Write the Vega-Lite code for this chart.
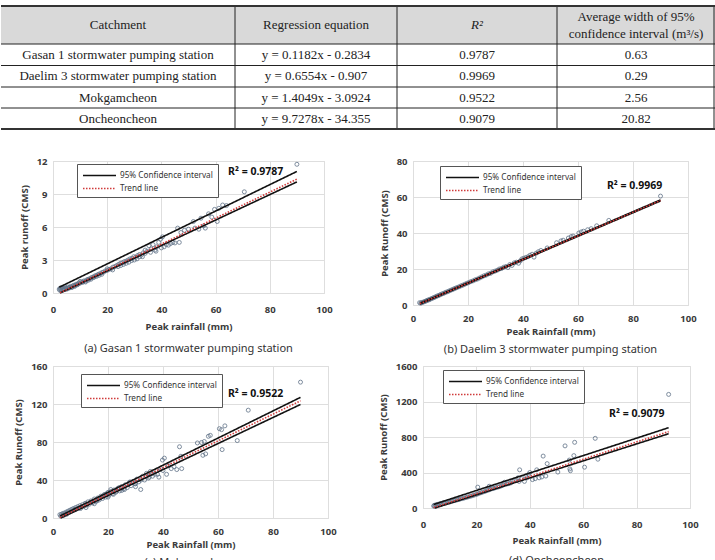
{
  "$schema": "https://vega.github.io/schema/vega-lite/v6.json",
  "background": "white",
  "padding": {"top": 5, "left": 0, "right": 0, "bottom": 0},
  "spacing": 4,
  "columns": 1,
  "align": "none",
  "config": {
    "font": "Noto Sans",
    "view": {"stroke": "#d4d4d4", "strokeWidth": 1},
    "axis": {
      "grid": true, "gridColor": "#dedede", "gridWidth": 1,
      "domain": false, "ticks": false, "labelOverlap": false, "labelFlush": false,
      "labelFont": "Noto Sans", "labelFontSize": 9.5, "labelFontWeight": "bold", "labelColor": "#3a3a3a",
      "titleFont": "Noto Sans", "titleFontSize": 9.5, "titleFontWeight": "bold", "titleColor": "#3a3a3a"
    },
    "axisX": {"labelPadding": 8, "titlePadding": 4},
    "axisY": {"labelPadding": 6, "titlePadding": 7, "tickCount": 6},
    "title": {"font": "Noto Sans", "fontSize": 11, "fontWeight": "normal", "color": "#333333", "orient": "bottom", "offset": 8},
    "point": {"filled": false, "size": 16, "strokeWidth": 0.9, "color": "#627489", "opacity": 0.9},
    "legend": {
      "symbolType": "M-1,0H5", "symbolSize": 121, "symbolStrokeWidth": 1.3,
      "labelFont": "Noto Sans", "labelFontSize": 8.2, "labelColor": "#333333", "labelOffset": 25,
      "padding": 5, "rowPadding": 3, "strokeColor": "#555555", "fillColor": "white"
    }
  },
  "resolve": {
    "scale": {"color": "independent", "strokeDash": "independent", "x": "independent", "y": "independent"},
    "legend": {"color": "independent", "strokeDash": "independent"}
  },
  "datasets": {
    "tlines": [
      {"w": "outer", "x": 0, "x2": 715, "y": 0, "y2": 0},
      {"w": "outer", "x": 0, "x2": 715, "y": 123, "y2": 123},
      {"w": "inner", "x": 0, "x2": 715, "y": 38, "y2": 38},
      {"w": "inner", "x": 0, "x2": 715, "y": 59.5, "y2": 59.5},
      {"w": "inner", "x": 0, "x2": 715, "y": 81, "y2": 81},
      {"w": "inner", "x": 0, "x2": 715, "y": 102, "y2": 102},
      {"w": "inner", "x": 234, "x2": 234, "y": 0, "y2": 123},
      {"w": "inner", "x": 396, "x2": 396, "y": 0, "y2": 123},
      {"w": "inner", "x": 556, "x2": 556, "y": 0, "y2": 123},
      {"w": "inner", "x": 713, "x2": 713, "y": 0, "y2": 123}
    ],
    "cells": [
      {"kind": "head", "xc": 117, "yc": 19, "t": "Catchment"},
      {"kind": "head", "xc": 315, "yc": 19, "t": "Regression equation"},
      {"kind": "headi", "xc": 476, "yc": 19, "t": "R²"},
      {"kind": "head", "xc": 635, "yc": 11, "t": "Average width of 95%\nconfidence interval (m³/s)"},
      {"kind": "body", "xc": 117, "yc": 48.5, "t": "Gasan 1 stormwater pumping station"},
      {"kind": "body", "xc": 315, "yc": 48.5, "t": "y = 0.1182x - 0.2834"},
      {"kind": "body", "xc": 476, "yc": 48.5, "t": "0.9787"},
      {"kind": "body", "xc": 635, "yc": 48.5, "t": "0.63"},
      {"kind": "body", "xc": 117, "yc": 70, "t": "Daelim 3 stormwater pumping station"},
      {"kind": "body", "xc": 315, "yc": 70, "t": "y = 0.6554x - 0.907"},
      {"kind": "body", "xc": 476, "yc": 70, "t": "0.9969"},
      {"kind": "body", "xc": 635, "yc": 70, "t": "0.29"},
      {"kind": "body", "xc": 117, "yc": 91.5, "t": "Mokgamcheon"},
      {"kind": "body", "xc": 315, "yc": 91.5, "t": "y = 1.4049x - 3.0924"},
      {"kind": "body", "xc": 476, "yc": 91.5, "t": "0.9522"},
      {"kind": "body", "xc": 635, "yc": 91.5, "t": "2.56"},
      {"kind": "body", "xc": 117, "yc": 112.5, "t": "Oncheoncheon"},
      {"kind": "body", "xc": 315, "yc": 112.5, "t": "y = 9.7278x - 34.355"},
      {"kind": "body", "xc": 476, "yc": 112.5, "t": "0.9079"},
      {"kind": "body", "xc": 635, "yc": 112.5, "t": "20.82"}
    ],
    "a_pts": [
      {"x":2.3,"y":0.35},{"x":2.5,"y":0.25},{"x":2.7,"y":0.45},{"x":2.9,"y":0.3},{"x":3.1,"y":0.2},{"x":3.3,"y":0.5},{"x":3.5,"y":0.35},{"x":3.7,"y":0.28},{"x":3.9,"y":0.45},{"x":4.1,"y":0.38},
      {"x":4.4,"y":0.3},{"x":4.6,"y":0.5},{"x":4.9,"y":0.42},{"x":5.2,"y":0.36},{"x":5.5,"y":0.55},{"x":5.8,"y":0.48},{"x":6.1,"y":0.5},{"x":6.5,"y":0.6},{"x":6.9,"y":0.55},{"x":7.3,"y":0.65},
      {"x":7.7,"y":0.7},{"x":8.1,"y":0.68},{"x":8.5,"y":0.8},{"x":9.0,"y":0.78},{"x":9.4,"y":0.9},{"x":9.9,"y":0.88},{"x":10.4,"y":1.0},{"x":10.9,"y":0.98},{"x":11.4,"y":1.1},{"x":11.9,"y":1.08},
      {"x":12.5,"y":1.2},{"x":13.0,"y":1.25},{"x":13.6,"y":1.3},{"x":14.2,"y":1.4},{"x":14.8,"y":1.45},{"x":15.4,"y":1.55},{"x":16.0,"y":1.6},{"x":16.7,"y":1.7},{"x":17.3,"y":1.75},{"x":18.0,"y":1.85},
      {"x":18.6,"y":1.9},{"x":19.3,"y":2.0},{"x":20.0,"y":2.05},{"x":20.7,"y":2.15},{"x":21.4,"y":2.2},{"x":22.1,"y":2.35},{"x":22.8,"y":2.4},{"x":23.5,"y":2.5},{"x":24.2,"y":2.6},{"x":24.9,"y":2.7},
      {"x":25.6,"y":2.75},{"x":26.3,"y":2.85},{"x":27.0,"y":2.9},{"x":27.7,"y":3.0},{"x":28.4,"y":3.1},{"x":29.1,"y":3.15},{"x":29.8,"y":3.3},{"x":30.5,"y":3.25},{"x":31.2,"y":3.4},{"x":31.9,"y":3.5},
      {"x":32.6,"y":3.45},{"x":33.3,"y":3.65},{"x":34.0,"y":3.6},{"x":34.7,"y":3.8},{"x":35.4,"y":4.3},{"x":36.2,"y":4.0},{"x":36.9,"y":4.4},{"x":37.6,"y":3.9},{"x":38.3,"y":4.2},{"x":39.0,"y":4.6},
      {"x":39.7,"y":4.9},{"x":40.4,"y":5.1},{"x":41.0,"y":4.2},{"x":41.8,"y":4.4},{"x":42.6,"y":4.35},{"x":43.4,"y":4.5},{"x":44.2,"y":4.6},{"x":45.0,"y":4.55},{"x":46.0,"y":5.9},{"x":46.6,"y":4.6},
      {"x":47.2,"y":5.5},{"x":48.5,"y":5.7},{"x":50.0,"y":5.8},{"x":51.8,"y":6.5},{"x":52.4,"y":5.9},{"x":53.8,"y":5.8},{"x":54.6,"y":6.8},{"x":55.6,"y":6.1},{"x":56.2,"y":5.9},{"x":57.4,"y":7.2},
      {"x":58.6,"y":6.9},{"x":59.6,"y":7.6},{"x":60.6,"y":6.5},{"x":61.2,"y":7.7},{"x":62.6,"y":8.0},{"x":64.0,"y":7.95},{"x":70.6,"y":9.2},{"x":90.0,"y":11.7},
      {"x":10,"y":1.05},{"x":12,"y":1.0},{"x":14,"y":1.25},{"x":16,"y":1.5},{"x":18,"y":1.7},{"x":20,"y":2.2},{"x":22,"y":2.1},{"x":24,"y":2.4},{"x":26,"y":2.6},{"x":28,"y":2.8},
      {"x":30,"y":3.0},{"x":32,"y":3.3},{"x":34,"y":3.9},{"x":36,"y":3.7},{"x":38,"y":3.8},{"x":40,"y":4.1},{"x":25,"y":2.5},{"x":27,"y":2.7},{"x":29,"y":2.95},{"x":31,"y":3.1},
      {"x":33,"y":3.3},{"x":17,"y":1.6},{"x":15,"y":1.4},{"x":13,"y":1.15},{"x":11,"y":1.0},{"x":9,"y":0.75},{"x":8,"y":0.6},{"x":7,"y":0.5},{"x":6,"y":0.45},{"x":5,"y":0.4}
    ],
    "b_pts": [
      {"x":2.4,"y":1.3},{"x":2.8,"y":1.0},{"x":3.2,"y":1.4},{"x":3.6,"y":1.5},{"x":4.0,"y":1.8},{"x":4.4,"y":2.0},{"x":4.8,"y":2.3},{"x":5.2,"y":2.6},{"x":5.6,"y":2.8},{"x":6.0,"y":3.0},
      {"x":6.5,"y":3.4},{"x":7.0,"y":3.7},{"x":7.5,"y":4.1},{"x":8.0,"y":4.4},{"x":8.5,"y":4.8},{"x":9.0,"y":5.1},{"x":9.5,"y":5.4},{"x":10.0,"y":5.8},{"x":10.6,"y":6.2},{"x":11.2,"y":6.5},
      {"x":11.8,"y":7.0},{"x":12.4,"y":7.3},{"x":13.0,"y":7.7},{"x":13.6,"y":8.1},{"x":14.2,"y":8.5},{"x":14.8,"y":8.9},{"x":15.4,"y":9.3},{"x":16.0,"y":9.7},{"x":16.7,"y":10.1},{"x":17.4,"y":10.6},
      {"x":18.1,"y":11.0},{"x":18.8,"y":11.5},{"x":19.5,"y":12.0},{"x":20.2,"y":12.4},{"x":21.0,"y":13.0},{"x":21.8,"y":13.4},{"x":22.6,"y":14.0},{"x":23.4,"y":14.4},{"x":24.2,"y":15.0},{"x":25.0,"y":15.6},
      {"x":25.8,"y":16.2},{"x":26.6,"y":16.6},{"x":27.4,"y":17.3},{"x":28.2,"y":17.6},{"x":29.0,"y":18.4},{"x":29.8,"y":18.8},{"x":30.6,"y":19.3},{"x":31.4,"y":20.0},{"x":32.2,"y":20.3},{"x":33.0,"y":21.0},
      {"x":33.8,"y":21.4},{"x":34.5,"y":20.8},{"x":35.2,"y":22.5},{"x":36.0,"y":22.0},{"x":36.8,"y":23.4},{"x":37.6,"y":23.8},{"x":38.4,"y":23.2},{"x":39.0,"y":24.5},{"x":39.6,"y":25.6},{"x":40.3,"y":26.0},
      {"x":41.0,"y":26.4},{"x":41.8,"y":26.8},{"x":42.5,"y":27.6},{"x":43.3,"y":28.2},{"x":44.0,"y":26.6},{"x":44.8,"y":28.8},{"x":45.6,"y":29.6},{"x":46.5,"y":30.3},{"x":48.8,"y":31.7},{"x":52.2,"y":34.6},
      {"x":53.8,"y":35.6},{"x":54.6,"y":36.0},{"x":56.5,"y":37.2},{"x":57.5,"y":38.0},{"x":58.2,"y":38.3},{"x":60.3,"y":40.0},{"x":61.2,"y":40.6},{"x":62.0,"y":41.0},{"x":63.5,"y":41.8},{"x":64.8,"y":42.4},
      {"x":66.8,"y":44.0},{"x":71.2,"y":47.0},{"x":90.0,"y":60.5}
    ],
    "c_pts": [
      {"x":2.5,"y":3.5},{"x":2.8,"y":2.0},{"x":3.1,"y":4.0},{"x":3.4,"y":2.5},{"x":3.7,"y":5.0},{"x":4.0,"y":3.0},{"x":4.3,"y":4.5},{"x":4.6,"y":6.0},{"x":5.0,"y":4.0},{"x":5.3,"y":7.0},
      {"x":5.6,"y":5.5},{"x":6.0,"y":8.0},{"x":6.3,"y":6.5},{"x":6.7,"y":9.0},{"x":7.0,"y":7.5},{"x":7.4,"y":10.0},{"x":7.8,"y":8.5},{"x":8.2,"y":11.0},{"x":8.6,"y":9.5},{"x":9.0,"y":12.0},
      {"x":9.4,"y":10.5},{"x":9.8,"y":13.0},{"x":10.2,"y":11.5},{"x":10.7,"y":14.0},{"x":11.2,"y":12.5},{"x":11.7,"y":15.5},{"x":12.2,"y":13.5},{"x":12.7,"y":17.0},{"x":13.2,"y":14.5},{"x":13.8,"y":18.0},
      {"x":14.4,"y":16.0},{"x":15.0,"y":20.0},{"x":15.6,"y":17.5},{"x":16.2,"y":21.0},{"x":16.8,"y":19.0},{"x":17.4,"y":23.0},{"x":18.0,"y":20.5},{"x":18.6,"y":24.5},{"x":19.2,"y":22.0},{"x":19.8,"y":26.0},
      {"x":20.4,"y":24.0},{"x":21.0,"y":28.0},{"x":21.6,"y":25.5},{"x":22.2,"y":29.5},{"x":22.8,"y":27.0},{"x":23.5,"y":31.0},{"x":24.2,"y":28.5},{"x":24.9,"y":33.0},{"x":25.6,"y":30.5},{"x":26.3,"y":35.0},
      {"x":27.0,"y":32.0},{"x":27.7,"y":37.0},{"x":28.4,"y":34.0},{"x":29.1,"y":38.5},{"x":29.8,"y":36.0},{"x":30.5,"y":41.0},{"x":31.2,"y":38.0},{"x":31.9,"y":30.0},{"x":32.6,"y":44.0},{"x":33.3,"y":40.0},
      {"x":34.0,"y":47.0},{"x":34.7,"y":42.0},{"x":35.4,"y":49.0},{"x":36.2,"y":44.0},{"x":37.0,"y":46.0},{"x":37.8,"y":50.0},{"x":38.5,"y":43.0},{"x":39.2,"y":52.0},{"x":39.8,"y":61.0},{"x":40.5,"y":63.0},
      {"x":41.3,"y":46.0},{"x":42.0,"y":55.0},{"x":43.0,"y":52.0},{"x":44.0,"y":54.0},{"x":45.0,"y":51.0},{"x":46.0,"y":75.0},{"x":46.5,"y":65.0},{"x":46.8,"y":52.0},{"x":52.5,"y":79.0},{"x":54.0,"y":79.5},
      {"x":54.5,"y":66.0},{"x":55.5,"y":67.5},{"x":55.0,"y":80.5},{"x":56.5,"y":86.0},{"x":57.2,"y":87.0},{"x":60.5,"y":94.0},{"x":61.3,"y":93.0},{"x":61.5,"y":72.0},{"x":62.5,"y":97.0},{"x":67.0,"y":81.5},
      {"x":71.0,"y":113.5},{"x":90.0,"y":143.0},
      {"x":5,"y":5},{"x":8,"y":9},{"x":10,"y":10},{"x":12,"y":15},{"x":14,"y":17},{"x":16,"y":18},{"x":18,"y":23},{"x":20,"y":27},{"x":22,"y":25},{"x":24,"y":32},
      {"x":26,"y":30},{"x":28,"y":38},{"x":30,"y":36},{"x":32,"y":40},{"x":34,"y":44},{"x":36,"y":47},{"x":38,"y":46},{"x":40,"y":50},{"x":12,"y":11},{"x":15,"y":15},
      {"x":20,"y":22},{"x":25,"y":29},{"x":30,"y":33},{"x":35,"y":43},{"x":21,"y":30},{"x":19,"y":25},{"x":17,"y":21},{"x":23,"y":28}
    ],
    "d_pts": [
      {"x":4.0,"y":22},{"x":4.2,"y":30},{"x":4.5,"y":18},{"x":4.8,"y":35},{"x":5.1,"y":28},{"x":5.4,"y":40},{"x":5.7,"y":34},{"x":6.0,"y":45},{"x":6.4,"y":40},{"x":6.8,"y":52},
      {"x":7.2,"y":48},{"x":7.6,"y":58},{"x":8.0,"y":55},{"x":8.5,"y":64},{"x":9.0,"y":62},{"x":9.5,"y":70},{"x":10.0,"y":68},{"x":10.5,"y":78},{"x":11.0,"y":76},{"x":11.6,"y":84},
      {"x":12.2,"y":86},{"x":12.8,"y":92},{"x":13.4,"y":96},{"x":14.0,"y":102},{"x":14.7,"y":106},{"x":15.4,"y":112},{"x":16.1,"y":118},{"x":16.8,"y":124},{"x":17.5,"y":130},{"x":18.2,"y":136},
      {"x":18.9,"y":142},{"x":19.6,"y":150},{"x":20.3,"y":156},{"x":20.5,"y":235},{"x":21.0,"y":165},{"x":21.7,"y":172},{"x":22.4,"y":180},{"x":23.1,"y":186},{"x":23.8,"y":195},{"x":24.5,"y":202},
      {"x":24.8,"y":245},{"x":25.2,"y":210},{"x":25.9,"y":218},{"x":26.6,"y":222},{"x":27.3,"y":230},{"x":28.0,"y":235},{"x":28.7,"y":242},{"x":29.4,"y":250},{"x":30.1,"y":260},{"x":30.5,"y":290},
      {"x":31.2,"y":268},{"x":32.0,"y":275},{"x":32.8,"y":282},{"x":33.5,"y":300},{"x":34.2,"y":310},{"x":35.0,"y":320},{"x":35.6,"y":340},{"x":36.0,"y":300},{"x":36.2,"y":430},{"x":37.0,"y":330},
      {"x":38.0,"y":300},{"x":38.5,"y":360},{"x":39.0,"y":340},{"x":39.6,"y":380},{"x":40.0,"y":400},{"x":41.0,"y":320},{"x":42.0,"y":330},{"x":42.6,"y":430},{"x":43.5,"y":340},{"x":44.5,"y":350},
      {"x":45.0,"y":585},{"x":46.0,"y":360},{"x":46.5,"y":500},{"x":50.5,"y":405},{"x":53.2,"y":700},{"x":54.8,"y":540},{"x":55.0,"y":440},{"x":55.2,"y":420},{"x":56.5,"y":590},{"x":56.8,"y":740},
      {"x":60.5,"y":460},{"x":64.5,"y":785},{"x":65.5,"y":550},{"x":92.0,"y":1280}
    ],
    "a_lines": [
      {"line":"upper","series":"95% Confidence interval","x":2.3,"y":0.52},{"line":"upper","series":"95% Confidence interval","x":90,"y":11.05},
      {"line":"lower","series":"95% Confidence interval","x":2.6,"y":0.0},{"line":"lower","series":"95% Confidence interval","x":90,"y":10.1},
      {"line":"trend","series":"Trend line","x":2.6,"y":0.02},{"line":"trend","series":"Trend line","x":90,"y":10.35}
    ],
    "b_lines": [
      {"line":"upper","series":"95% Confidence interval","x":2.5,"y":0.95},{"line":"upper","series":"95% Confidence interval","x":90,"y":58.4},
      {"line":"lower","series":"95% Confidence interval","x":2.5,"y":0.5},{"line":"lower","series":"95% Confidence interval","x":90,"y":57.8},
      {"line":"trend","series":"Trend line","x":2.5,"y":0.73},{"line":"trend","series":"Trend line","x":90,"y":58.08}
    ],
    "c_lines": [
      {"line":"upper","series":"95% Confidence interval","x":2.5,"y":2.0},{"line":"upper","series":"95% Confidence interval","x":90,"y":127},
      {"line":"lower","series":"95% Confidence interval","x":2.8,"y":0.0},{"line":"lower","series":"95% Confidence interval","x":90,"y":119.5},
      {"line":"trend","series":"Trend line","x":2.5,"y":0.42},{"line":"trend","series":"Trend line","x":90,"y":123.35}
    ],
    "d_lines": [
      {"line":"upper","series":"95% Confidence interval","x":4,"y":40},{"line":"upper","series":"95% Confidence interval","x":92,"y":905},
      {"line":"lower","series":"95% Confidence interval","x":4.5,"y":0},{"line":"lower","series":"95% Confidence interval","x":92,"y":837},
      {"line":"trend","series":"Trend line","x":4,"y":4.6},{"line":"trend","series":"Trend line","x":92,"y":860.6}
    ]
  },
  "concat": [
    {
      "width": 663, "height": 145,
      "view": {"stroke": null},
      "layer": [
        {
          "data": {"values": [{"x": 0, "x2": 715, "y": 0, "y2": 38}]},
          "mark": {"type": "rect", "color": "#d9d9d9"},
          "encoding": {
            "x": {"field": "x", "type": "quantitative", "scale": {"domain": [52, 715]}, "axis": null},
            "x2": {"field": "x2"},
            "y": {"field": "y", "type": "quantitative", "scale": {"domain": [0, 145], "reverse": true}, "axis": null},
            "y2": {"field": "y2"}
          }
        },
        {
          "data": {"name": "tlines"},
          "transform": [{"filter": "datum.w == 'inner'"}],
          "mark": {"type": "rule", "color": "#222222", "strokeWidth": 1},
          "encoding": {
            "x": {"field": "x", "type": "quantitative", "scale": {"domain": [52, 715]}, "axis": null},
            "x2": {"field": "x2"},
            "y": {"field": "y", "type": "quantitative", "scale": {"domain": [0, 145], "reverse": true}, "axis": null},
            "y2": {"field": "y2"}
          }
        },
        {
          "data": {"name": "tlines"},
          "transform": [{"filter": "datum.w == 'outer'"}],
          "mark": {"type": "rule", "color": "#333333", "strokeWidth": 2},
          "encoding": {
            "x": {"field": "x", "type": "quantitative", "scale": {"domain": [52, 715]}, "axis": null},
            "x2": {"field": "x2"},
            "y": {"field": "y", "type": "quantitative", "scale": {"domain": [0, 145], "reverse": true}, "axis": null},
            "y2": {"field": "y2"}
          }
        },
        {
          "data": {"name": "cells"},
          "transform": [{"filter": "datum.kind != 'headi'"}],
          "mark": {"type": "text", "font": "Liberation Serif", "fontSize": 13, "color": "#222222", "lineBreak": "\n", "lineHeight": 17, "baseline": "middle", "align": "center"},
          "encoding": {
            "x": {"field": "xc", "type": "quantitative", "scale": {"domain": [52, 715]}, "axis": null},
            "y": {"field": "yc", "type": "quantitative", "scale": {"domain": [0, 145], "reverse": true}, "axis": null},
            "text": {"field": "t"}
          }
        },
        {
          "data": {"name": "cells"},
          "transform": [{"filter": "datum.kind == 'headi'"}],
          "mark": {"type": "text", "font": "Liberation Serif", "fontSize": 13, "fontStyle": "italic", "color": "#222222", "baseline": "middle", "align": "center"},
          "encoding": {
            "x": {"field": "xc", "type": "quantitative", "scale": {"domain": [52, 715]}, "axis": null},
            "y": {"field": "yc", "type": "quantitative", "scale": {"domain": [0, 145], "reverse": true}, "axis": null},
            "text": {"field": "t"}
          }
        }
      ]
    },
    {
      "hconcat": [
        {
          "width": 271, "height": 132,
          "title": {"text": "(a) Gasan 1 stormwater pumping station", "offset": 12},
          "layer": [
            {
              "data": {"name": "a_pts"},
              "mark": {"type": "point"},
              "encoding": {
                "x": {"field": "x", "type": "quantitative", "title": "Peak rainfall (mm)", "scale": {"domain": [0, 100]}, "axis": {"values": [0, 20, 40, 60, 80, 100], "labelPadding": 11, "titlePadding": 8}},
                "y": {"field": "y", "type": "quantitative", "title": "Peak runoff (CMS)", "scale": {"domain": [0, 12]}, "axis": {"values": [0, 3, 6, 9, 12]}}
              }
            },
            {
              "data": {"name": "a_lines"},
              "mark": {"type": "line", "strokeWidth": 1.6},
              "encoding": {
                "x": {"field": "x", "type": "quantitative", "title": "Peak rainfall (mm)"},
                "y": {"field": "y", "type": "quantitative", "title": "Peak runoff (CMS)"},
                "detail": {"field": "line"},
                "color": {"field": "series", "type": "nominal", "scale": {"domain": ["95% Confidence interval", "Trend line"], "range": ["#111111", "#d03a3a"]}, "legend": {"orient": "none", "legendX": 24, "legendY": 3, "title": null}},
                "strokeDash": {"field": "series", "type": "nominal", "scale": {"domain": ["95% Confidence interval", "Trend line"], "range": [[1, 0], [1.5, 1.5]]}, "legend": {"orient": "none", "legendX": 24, "legendY": 3, "title": null}}
              }
            },
            {
              "data": {"values": [{"x": 64.6, "y": 11.0, "t": "R² = 0.9787"}]},
              "mark": {"type": "text", "align": "left", "baseline": "middle", "fontWeight": "bold", "fontSize": 10.5, "font": "Noto Sans", "color": "#111111"},
              "encoding": {
                "x": {"field": "x", "type": "quantitative", "title": "Peak rainfall (mm)"},
                "y": {"field": "y", "type": "quantitative", "title": "Peak runoff (CMS)"},
                "text": {"field": "t"}
              }
            }
          ]
        },
        {
          "width": 275, "height": 144,
          "title": {"text": "(b) Daelim 3 stormwater pumping station"},
          "layer": [
            {
              "data": {"name": "b_pts"},
              "mark": {"type": "point"},
              "encoding": {
                "x": {"field": "x", "type": "quantitative", "title": "Peak Rainfall (mm)", "scale": {"domain": [0, 100]}, "axis": {"values": [0, 20, 40, 60, 80, 100]}},
                "y": {"field": "y", "type": "quantitative", "title": "Peak Runoff (CMS)", "scale": {"domain": [0, 80]}, "axis": {"values": [0, 20, 40, 60, 80]}}
              }
            },
            {
              "data": {"name": "b_lines"},
              "mark": {"type": "line", "strokeWidth": 1.6},
              "encoding": {
                "x": {"field": "x", "type": "quantitative", "title": "Peak Rainfall (mm)"},
                "y": {"field": "y", "type": "quantitative", "title": "Peak Runoff (CMS)"},
                "detail": {"field": "line"},
                "color": {"field": "series", "type": "nominal", "scale": {"domain": ["95% Confidence interval", "Trend line"], "range": ["#111111", "#d03a3a"]}, "legend": {"orient": "none", "legendX": 27, "legendY": 5, "title": null}},
                "strokeDash": {"field": "series", "type": "nominal", "scale": {"domain": ["95% Confidence interval", "Trend line"], "range": [[1, 0], [1.5, 1.5]]}, "legend": {"orient": "none", "legendX": 27, "legendY": 5, "title": null}}
              }
            },
            {
              "data": {"values": [{"x": 70.5, "y": 66.1, "t": "R² = 0.9969"}]},
              "mark": {"type": "text", "align": "left", "baseline": "middle", "fontWeight": "bold", "fontSize": 10.5, "font": "Noto Sans", "color": "#111111"},
              "encoding": {
                "x": {"field": "x", "type": "quantitative", "title": "Peak Rainfall (mm)"},
                "y": {"field": "y", "type": "quantitative", "title": "Peak Runoff (CMS)"},
                "text": {"field": "t"}
              }
            }
          ]
        }
      ],
      "spacing": 89,
      "bounds": "flush",
      "resolve": {
        "scale": {"color": "independent", "strokeDash": "independent", "x": "independent", "y": "independent"},
        "legend": {"color": "independent", "strokeDash": "independent"}
      }
    },
    {
      "hconcat": [
        {
          "width": 275, "height": 152,
          "title": {"text": "(c) Mokgamcheon"},
          "layer": [
            {
              "data": {"name": "c_pts"},
              "mark": {"type": "point"},
              "encoding": {
                "x": {"field": "x", "type": "quantitative", "title": "Peak Rainfall (mm)", "scale": {"domain": [0, 100]}, "axis": {"values": [0, 20, 40, 60, 80, 100]}},
                "y": {"field": "y", "type": "quantitative", "title": "Peak Runoff (CMS)", "scale": {"domain": [0, 160]}, "axis": {"values": [0, 40, 80, 120, 160]}}
              }
            },
            {
              "data": {"name": "c_lines"},
              "mark": {"type": "line", "strokeWidth": 1.6},
              "encoding": {
                "x": {"field": "x", "type": "quantitative", "title": "Peak Rainfall (mm)"},
                "y": {"field": "y", "type": "quantitative", "title": "Peak Runoff (CMS)"},
                "detail": {"field": "line"},
                "color": {"field": "series", "type": "nominal", "scale": {"domain": ["95% Confidence interval", "Trend line"], "range": ["#111111", "#d03a3a"]}, "legend": {"orient": "none", "legendX": 28, "legendY": 8, "title": null}},
                "strokeDash": {"field": "series", "type": "nominal", "scale": {"domain": ["95% Confidence interval", "Trend line"], "range": [[1, 0], [1.5, 1.5]]}, "legend": {"orient": "none", "legendX": 28, "legendY": 8, "title": null}}
              }
            },
            {
              "data": {"values": [{"x": 63.6, "y": 130.5, "t": "R² = 0.9522"}]},
              "mark": {"type": "text", "align": "left", "baseline": "middle", "fontWeight": "bold", "fontSize": 10.5, "font": "Noto Sans", "color": "#111111"},
              "encoding": {
                "x": {"field": "x", "type": "quantitative", "title": "Peak Rainfall (mm)"},
                "y": {"field": "y", "type": "quantitative", "title": "Peak Runoff (CMS)"},
                "text": {"field": "t"}
              }
            }
          ]
        },
        {
          "width": 267, "height": 142,
          "title": {"text": "(d) Oncheoncheon", "offset": 10},
          "layer": [
            {
              "data": {"name": "d_pts"},
              "mark": {"type": "point"},
              "encoding": {
                "x": {"field": "x", "type": "quantitative", "title": "Peak Rainfall (mm)", "scale": {"domain": [0, 100]}, "axis": {"values": [0, 20, 40, 60, 80, 100], "labelPadding": 11, "titlePadding": 7}},
                "y": {"field": "y", "type": "quantitative", "title": "Peak Runoff (CMS)", "scale": {"domain": [0, 1600]}, "axis": {"values": [0, 400, 800, 1200, 1600], "format": "d"}}
              }
            },
            {
              "data": {"name": "d_lines"},
              "mark": {"type": "line", "strokeWidth": 1.6},
              "encoding": {
                "x": {"field": "x", "type": "quantitative", "title": "Peak Rainfall (mm)"},
                "y": {"field": "y", "type": "quantitative", "title": "Peak Runoff (CMS)"},
                "detail": {"field": "line"},
                "color": {"field": "series", "type": "nominal", "scale": {"domain": ["95% Confidence interval", "Trend line"], "range": ["#111111", "#d03a3a"]}, "legend": {"orient": "none", "legendX": 20, "legendY": 4, "title": null}},
                "strokeDash": {"field": "series", "type": "nominal", "scale": {"domain": ["95% Confidence interval", "Trend line"], "range": [[1, 0], [1.5, 1.5]]}, "legend": {"orient": "none", "legendX": 20, "legendY": 4, "title": null}}
              }
            },
            {
              "data": {"values": [{"x": 69.7, "y": 1059, "t": "R² = 0.9079"}]},
              "mark": {"type": "text", "align": "left", "baseline": "middle", "fontWeight": "bold", "fontSize": 10.5, "font": "Noto Sans", "color": "#111111"},
              "encoding": {
                "x": {"field": "x", "type": "quantitative", "title": "Peak Rainfall (mm)"},
                "y": {"field": "y", "type": "quantitative", "title": "Peak Runoff (CMS)"},
                "text": {"field": "t"}
              }
            }
          ]
        }
      ],
      "spacing": 95,
      "bounds": "flush",
      "resolve": {
        "scale": {"color": "independent", "strokeDash": "independent", "x": "independent", "y": "independent"},
        "legend": {"color": "independent", "strokeDash": "independent"}
      }
    }
  ]
}
